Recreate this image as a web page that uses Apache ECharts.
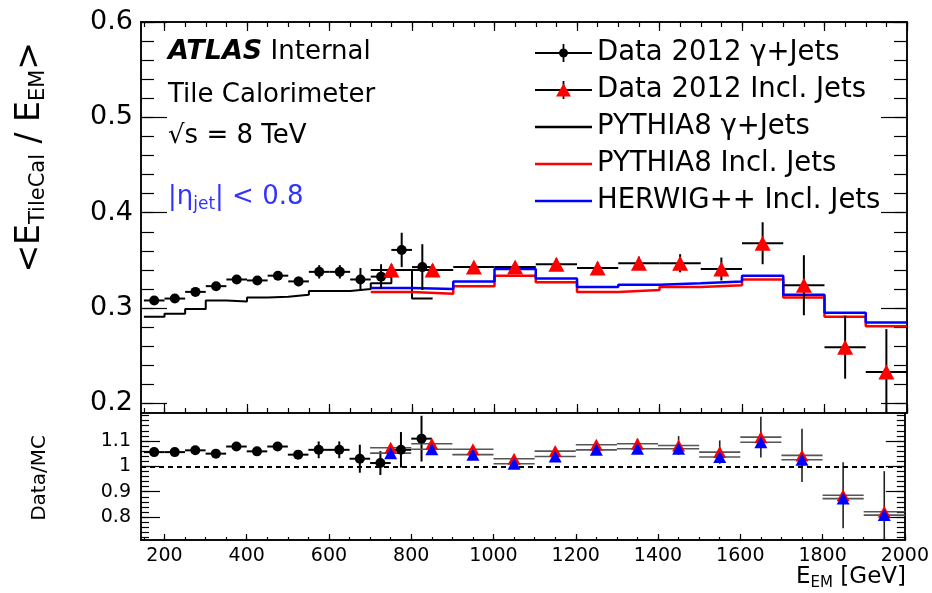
<!DOCTYPE html>
<html><head><meta charset="utf-8">
<script src="https://cdn.jsdelivr.net/npm/echarts@6/dist/echarts.min.js"></script>
<style>html,body{margin:0;padding:0;background:#fff}#c{width:932px;height:593px}</style>
</head><body><div id="c"></div>
<script>
// ---------- data ----------
const gammaEdges = [150,200,250,300,350,400,450,500,550,600,650,700,750,800,850];
const pythiaGamma = [0.291,0.294,0.299,0.308,0.307,0.311,0.312,0.314,0.318,0.318,0.320,0.326,0.340,0.310];
const gammaE = [175,225,275,325,375,425,475,525,575,625,675,725,775,825];
const gammaData = [0.308,0.310,0.317,0.323,0.330,0.329,0.334,0.328,0.338,0.338,0.330,0.333,0.361,0.343];
const gammaErr = [0.004,0.004,0.004,0.004,0.004,0.004,0.004,0.005,0.007,0.007,0.012,0.013,0.018,0.024];
const gammaRatio = [1.056,1.056,1.063,1.050,1.078,1.059,1.078,1.046,1.065,1.065,1.030,1.013,1.065,1.109];
const gammaRatioErr = [0.012,0.012,0.012,0.012,0.012,0.012,0.012,0.015,0.033,0.033,0.055,0.047,0.07,0.09];

const inclEdges = [700,800,900,1000,1100,1200,1300,1400,1500,1600,1700,1800,1900,2000];
const pythiaIncl = [0.317,0.315,0.323,0.334,0.327,0.317,0.319,0.322,0.324,0.330,0.311,0.291,0.281];
const herwigIncl = [0.321,0.320,0.328,0.341,0.331,0.322,0.3246,0.326,0.328,0.334,0.314,0.295,0.285];
const inclE = [750,850,950,1050,1150,1250,1350,1450,1550,1650,1750,1850,1950];
const inclData = [0.340,0.340,0.343,0.343,0.346,0.342,0.347,0.347,0.341,0.368,0.324,0.259,0.233];
const inclErr = [0.006,0.006,0.005,0.005,0.006,0.006,0.007,0.0095,0.012,0.022,0.0315,0.033,0.045];
const ratioPythia = [1.073,1.089,1.067,1.030,1.060,1.085,1.089,1.082,1.056,1.115,1.043,0.886,0.821];
const ratioHerwig = [1.052,1.067,1.046,1.010,1.039,1.065,1.069,1.069,1.037,1.095,1.026,0.873,0.808];
const ratioErr = [0.012,0.012,0.012,0.012,0.015,0.015,0.02,0.037,0.046,0.08,0.105,0.13,0.16];

const xTicks = [200,400,600,800,1000,1200,1400,1600,1800,2000];
const yTicksTop = [0.2,0.3,0.4,0.5,0.6];
const yTicksBottom = [0.8,0.9,1,1.1];
const yLabelsBottom = ['0.8','0.9','1','1.1'];
const gammaHalfWidth = 25, inclHalfWidth = 50;

// ---------- layout ----------
const F = "'DejaVu Sans', sans-serif";
const X_MIN = 143, X_MAX = 2000;
const G0 = {left:141, right:25, top:22, height:391};
const G1 = {left:141, right:25, top:413, height:127};

const xMinor = []; for (let v = 150; v <= 2000; v += 50) xMinor.push(v);
const yMinorTop = []; for (let k = 0; k <= 20; k++) yMinorTop.push(Math.round((0.2 + 0.02*k)*100)/100);
const yMinorBot = []; for (let k = 0; k <= 24; k++) yMinorBot.push(Math.round((0.72 + 0.02*k)*100)/100);

const AX = {color:'#000', width:1.5};
function xAx(grid, pos, vals, len, label) {
  return {type:'value', gridIndex:grid, position:pos, min:X_MIN, max:X_MAX,
    axisLine:{show:true, onZero:false, lineStyle:AX},
    axisTick:{show:true, inside:true, length:len, customValues:vals, lineStyle:{color:'#000', width:1.2}},
    axisLabel:label ? {show:true, customValues:vals, fontFamily:F, fontSize:19, color:'#000', margin:7, formatter:v => String(v)} : {show:false},
    splitLine:{show:false}};
}
function yAx(grid, pos, min, max, vals, len, label) {
  return {type:'value', gridIndex:grid, position:pos, min:min, max:max,
    axisLine:{show:true, onZero:false, lineStyle:AX},
    axisTick:{show:true, inside:true, length:len, customValues:vals, lineStyle:{color:'#000', width:1.2}},
    axisLabel:label ? Object.assign({show:true, customValues:vals, fontFamily:F, color:'#000'}, label) : {show:false},
    splitLine:{show:false}};
}

function steps(edges, vals) {
  const d = vals.map((v,i) => [edges[i], v]);
  d.push([edges[edges.length-1], vals[vals.length-1]]);
  return d;
}

function errSeries(name, xi, yi, xs, ys, dx, dys, color, width, hcolor) {
  return {type:'custom', name:name, xAxisIndex:xi, yAxisIndex:yi, z:3, silent:true,
    data: xs.map((x,i) => [x, ys[i], dx, dys[i]]),
    encode:{x:0, y:1},
    renderItem: function(params, api) {
      const x = api.value(0), y = api.value(1), ex = api.value(2), ey = api.value(3);
      const cs = params.coordSys;
      const cy = v => Math.max(cs.y, Math.min(cs.y + cs.height, v));
      const cx = v => Math.max(cs.x, Math.min(cs.x + cs.width, v));
      const l = api.coord([x-ex, y]), r = api.coord([x+ex, y]);
      const t = api.coord([x, y+ey]), b = api.coord([x, y-ey]);
      const ch = [{type:'line', shape:{x1:cx(l[0]), y1:l[1], x2:cx(r[0]), y2:r[1]}, style:{stroke:hcolor||color, lineWidth:width}}];
      if (ey > 0) ch.push({type:'line', shape:{x1:t[0], y1:cy(t[1]), x2:b[0], y2:cy(b[1])}, style:{stroke:color, lineWidth:width}});
      return {type:'group', children:ch};
    }};
}

const lineIcon = 'path://M0,0M57,20M0,8.8H57V11.2H0Z';
const gammaIcon = 'path://M0,0M57,20M0,9.1H57V10.9H0ZM27.6,1H29.4V19H27.6ZM33,10A4.5,4.5 0 1 1 24,10A4.5,4.5 0 1 1 33,10Z';
const triIcon = 'path://M0,0M57,20M21,16.5L28.5,3.5L36,16.5Z';

const chart = echarts.init(document.getElementById('c'), null, {renderer:'canvas'});
chart.setOption({
  animation:false,
  backgroundColor:'#fff',
  grid:[Object.assign({}, G0), Object.assign({}, G1)],
  xAxis:[
    xAx(0,'bottom',xTicks,9,false), xAx(0,'bottom',xMinor,5,false),
    xAx(0,'top',xTicks,9,false), xAx(0,'top',xMinor,5,false),
    xAx(1,'bottom',xTicks,6,true), xAx(1,'bottom',xMinor,3,false)
  ],
  yAxis:[
    yAx(0,'left',0.19,0.6,yTicksTop,26,{fontSize:27, margin:8, formatter:v => v.toFixed(1)}),
    yAx(0,'left',0.19,0.6,yMinorTop,13,null),
    yAx(0,'right',0.19,0.6,yTicksTop,26,null),
    yAx(0,'right',0.19,0.6,yMinorTop,13,null),
    yAx(1,'left',0.71,1.21,yTicksBottom,19,{fontSize:19, margin:10, formatter:v => yLabelsBottom[yTicksBottom.indexOf(Math.round(v*10)/10)] || ''}),
    yAx(1,'left',0.71,1.21,yMinorBot,8,null),
    yAx(1,'right',0.71,1.21,yTicksBottom,19,null),
    yAx(1,'right',0.71,1.21,yMinorBot,8,null)
  ],
  legend:{left:535, top:39, padding:0, orient:'vertical', itemWidth:57, itemHeight:20, itemGap:9, selectedMode:false,
    textStyle:{fontFamily:F, fontSize:27.5, color:'#000', lineHeight:28},
    data:[
      {name:'Data 2012 γ+Jets', icon:gammaIcon, itemStyle:{opacity:1}},
      {name:'Data 2012 Incl. Jets', icon:triIcon, itemStyle:{opacity:1}},
      {name:'PYTHIA8 γ+Jets', icon:lineIcon},
      {name:'PYTHIA8 Incl. Jets', icon:lineIcon},
      {name:'HERWIG++ Incl. Jets', icon:lineIcon}
    ]},
  graphic:[
    {type:'line', z:-1, shape:{x1:535, y1:90, x2:592, y2:90}, style:{stroke:'#000', lineWidth:1.8}},
    {type:'line', z:-1, shape:{x1:563.5, y1:81, x2:563.5, y2:99}, style:{stroke:'#000', lineWidth:1.8}},
    {type:'text', x:168, y:52, style:{text:'{b|ATLAS}{n| Internal}', verticalAlign:'middle',
      rich:{b:{fontFamily:F, fontSize:27, fontWeight:'bold', fontStyle:'italic', fill:'#000'}, n:{fontFamily:F, fontSize:26, fill:'#000'}}}},
    {type:'text', x:168, y:95, style:{text:'Tile Calorimeter', fontFamily:F, fontSize:26, fill:'#000', verticalAlign:'middle'}},
    {type:'text', x:168, y:136, style:{text:'√s = 8 TeV', fontFamily:F, fontSize:26, fill:'#000', verticalAlign:'middle'}},
    {type:'text', x:168, y:197, style:{text:'{m||η}{s|jet}{m|| < 0.8}', verticalAlign:'middle',
      rich:{m:{fontFamily:F, fontSize:26, fill:'#3333ff'}, s:{fontFamily:F, fontSize:17, fill:'#3333ff', padding:[16,0,0,0]}}}},
    {type:'text', x:30, y:42, rotation:Math.PI/2, style:{text:'{m|<E}{s|TileCal}{m| / E}{s|EM}{m|>}', align:'right', verticalAlign:'middle',
      rich:{m:{fontFamily:F, fontSize:33, fill:'#000'}, s:{fontFamily:F, fontSize:21, fill:'#000', padding:[17,0,0,0]}}}},
    {type:'text', x:40, y:478, rotation:Math.PI/2, style:{text:'Data/MC', fontFamily:F, fontSize:20, fill:'#000', align:'center', verticalAlign:'middle'}},
    {type:'text', x:906, y:577, style:{text:'{m|E}{s|EM}{m| [GeV]}', align:'right', verticalAlign:'middle',
      rich:{m:{fontFamily:F, fontSize:23, fill:'#000'}, s:{fontFamily:F, fontSize:15, fill:'#000', padding:[12,0,0,0]}}}}
  ],
  series:[
    {type:'line', name:'PYTHIA8 γ+Jets', xAxisIndex:0, yAxisIndex:0, step:'end', symbol:'none', z:1, color:'#000',
      lineStyle:{color:'#000', width:2}, data:steps(gammaEdges, pythiaGamma)},
    {type:'line', name:'PYTHIA8 Incl. Jets', xAxisIndex:0, yAxisIndex:0, step:'end', symbol:'none', z:1, color:'#ff0000',
      lineStyle:{color:'#ff0000', width:2.5}, data:steps(inclEdges, pythiaIncl)},
    {type:'line', name:'HERWIG++ Incl. Jets', xAxisIndex:0, yAxisIndex:0, step:'end', symbol:'none', z:1, color:'#0000ff',
      lineStyle:{color:'#0000ff', width:2.5}, data:steps(inclEdges, herwigIncl)},
    errSeries('gammaErr', 0, 0, gammaE, gammaData, gammaHalfWidth, gammaErr, '#000', 2),
    errSeries('inclErr', 0, 0, inclE, inclData, inclHalfWidth, inclErr, '#000', 2),
    {type:'scatter', name:'Data 2012 γ+Jets', xAxisIndex:0, yAxisIndex:0, symbol:'circle', symbolSize:10, z:5, color:'#000',
      itemStyle:{color:'#000', opacity:1}, data:gammaE.map((x,i) => [x, gammaData[i]])},
    {type:'scatter', name:'Data 2012 Incl. Jets', xAxisIndex:0, yAxisIndex:0, symbol:'triangle', symbolSize:[16,15], z:5, color:'#ff0000',
      itemStyle:{color:'#ff0000', opacity:1}, data:inclE.map((x,i) => [x, inclData[i]])},
    // ratio panel
    {type:'line', name:'unity', xAxisIndex:4, yAxisIndex:4, symbol:'none', z:1, data:[],
      markLine:{silent:true, symbol:'none', label:{show:false}, lineStyle:{color:'#000', width:2, type:[5,4]}, data:[{yAxis:1}]}},
    errSeries('gammaRatioErr', 4, 4, gammaE, gammaRatio, gammaHalfWidth, gammaRatioErr, '#000', 2),
    errSeries('ratioPythiaErr', 4, 4, inclE, ratioPythia, inclHalfWidth, ratioErr, '#222', 1.6, '#555'),
    errSeries('ratioHerwigErr', 4, 4, inclE, ratioHerwig, inclHalfWidth, ratioHerwig.map(() => 0), '#555', 1.6, '#555'),
    {type:'scatter', name:'gammaRatio', xAxisIndex:4, yAxisIndex:4, symbol:'circle', symbolSize:10, z:5,
      itemStyle:{color:'#000', opacity:1}, data:gammaE.map((x,i) => [x, gammaRatio[i]])},
    {type:'scatter', name:'ratioPythia', xAxisIndex:4, yAxisIndex:4, symbol:'triangle', symbolSize:[13,12], z:5,
      itemStyle:{color:'#ff0000', opacity:1}, data:inclE.map((x,i) => [x, ratioPythia[i]])},
    {type:'scatter', name:'ratioHerwig', xAxisIndex:4, yAxisIndex:4, symbol:'triangle', symbolSize:[13,12], z:6,
      itemStyle:{color:'#0000ff', opacity:1}, data:inclE.map((x,i) => [x, ratioHerwig[i]])}
  ]
});
</script></body></html>
